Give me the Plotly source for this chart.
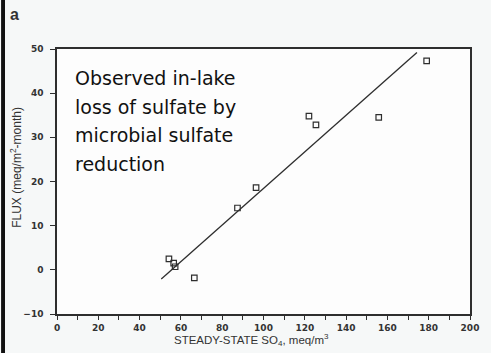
import plotly.graph_objects as go

# Data
so4 = [54.2, 56.5, 57.2, 66.5, 87.4, 96.4, 122.0, 125.4, 155.8, 179.0]
flux = [2.5, 1.5, 0.7, -1.8, 14.0, 18.6, 34.8, 32.8, 34.5, 47.3]
fit_x = [50.5, 174.3]
fit_y = [-2.1, 49.2]
x_ticks = [0, 20, 40, 60, 80, 100, 120, 140, 160, 180, 200]
y_ticks = [-10, 0, 10, 20, 30, 40, 50]
note_lines = ["Observed in-lake", "loss of sulfate by", "microbial sulfate", "reduction"]

W, H = 491, 353
L, R, T, B = 57, 13, 49, 39
pw, ph = W - L - R, H - T - B


def px(x):
    return (x - L) / pw


def py(y):
    return (H - B - y) / ph


ink = "#2e2e2e"
fig = go.Figure()
fig.add_trace(go.Scatter(x=fit_x, y=fit_y, mode="lines",
                         line=dict(color=ink, width=1.3), showlegend=False))
fig.add_trace(go.Scatter(x=so4, y=flux, mode="markers",
                         marker=dict(symbol="square-open", size=5.5,
                                     color=ink, line=dict(width=1.2)),
                         showlegend=False))

tickfont = dict(family="DejaVu Sans", size=9, color="#333", weight="bold")
fig.update_xaxes(range=[0, 200], tickvals=x_ticks, ticks="outside", ticklen=4,
                 tickcolor=ink, tickwidth=1.2, showline=True, linecolor=ink,
                 linewidth=1.5, mirror=True, showgrid=False, zeroline=False,
                 tickfont=tickfont, ticklabelstandoff=0,
                 minor=dict(dtick=10, tick0=0, ticks="outside", ticklen=4,
                            tickcolor=ink, tickwidth=1.2, showgrid=False))
fig.update_yaxes(range=[-10, 50], tickvals=y_ticks, ticks="outside", ticklen=5,
                 tickcolor=ink, tickwidth=1.2, showline=True, linecolor=ink,
                 linewidth=1.5, mirror=True, showgrid=False, zeroline=False,
                 tickfont=tickfont, ticklabelstandoff=5)

# axis titles
fig.add_annotation(text="STEADY-STATE SO<sub>4</sub>, meq/m<sup>3</sup>",
                   xref="paper", yref="paper", x=px(255), y=py(340),
                   xanchor="center", yanchor="middle", showarrow=False,
                   font=dict(family="Liberation Sans", size=11.5, color="#333"))
fig.add_annotation(text="FLUX (meq/m<sup>2</sup>-month)", textangle=-90,
                   xref="paper", yref="paper", x=px(15), y=py(167),
                   xanchor="center", yanchor="middle", showarrow=False,
                   font=dict(family="Liberation Sans", size=12, color="#333"))

# note, one annotation per line
for i, line in enumerate(note_lines):
    fig.add_annotation(text=line, xref="paper", yref="paper",
                       x=px(73), y=py(78 + 28.7 * i), xanchor="left",
                       yanchor="middle", showarrow=False, align="left",
                       font=dict(family="DejaVu Sans", size=19, color="#111"))

fig.add_annotation(text="a", xref="paper", yref="paper", x=px(7), y=py(14),
                   xanchor="left", yanchor="middle", showarrow=False,
                   font=dict(family="Liberation Sans", size=16, color="#333", weight="bold"))
fig.add_shape(type="rect", xref="paper", yref="paper", x0=px(0), x1=px(4),
              y0=py(H), y1=py(0), fillcolor="#111", line=dict(width=0))

fig.update_layout(width=W, height=H,
                  margin=dict(l=L, r=R, t=T, b=B),
                  paper_bgcolor="#f6f8f8", plot_bgcolor="#fdfdfd")
fig.write_html("out.html")
